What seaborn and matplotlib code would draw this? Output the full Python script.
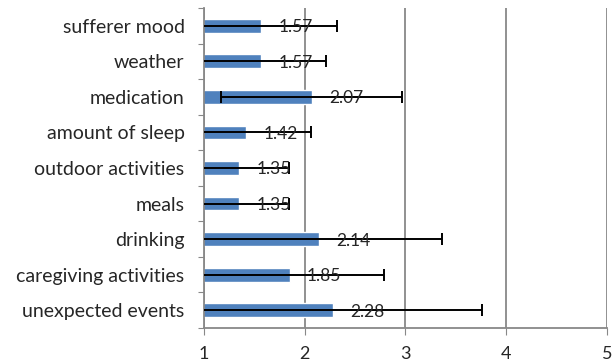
import matplotlib
matplotlib.use("Agg")
import matplotlib.pyplot as plt
import seaborn as sns
import pandas as pd

categories = ["sufferer mood", "weather", "medication", "amount of sleep",
              "outdoor activities", "meals", "drinking", "caregiving activities",
              "unexpected events"]
means = [1.57, 1.57, 2.07, 1.42, 1.35, 1.35, 2.14, 1.85, 2.28]
sds = [0.75, 0.64, 0.90, 0.64, 0.49, 0.49, 1.22, 0.94, 1.48]

df = pd.DataFrame({"category": categories, "mean": means, "sd": sds})

sns.set_style("white")
plt.rcParams["font.family"] = ["Lato", "DejaVu Sans"]

fig, ax = plt.subplots(figsize=(6.13, 3.63), dpi=100)
sns.barplot(data=df, y="category", x="mean", orient="h", color="#4F81BD",
            saturation=1, width=0.39, errorbar=None, ax=ax, zorder=2)
ax.errorbar(df["mean"], range(len(df)), xerr=df["sd"], fmt="none",
            ecolor="black", elinewidth=1.4, capsize=4, capthick=1.4, zorder=3)
for i, v in enumerate(means):
    ax.text(v + 0.17, i + 0.04, f"{v:.2f}", va="center", ha="left", fontsize=12.5, zorder=4)

ax.set_xlim(1, 5)
ax.set_ylim(len(df) - 0.5, -0.5)
ax.set_xticks([1, 2, 3, 4, 5])
ax.set_yticks([i - 0.5 for i in range(len(df) + 1)], minor=False)
ax.set_yticklabels([])
ax.set_yticks(range(len(df)), minor=True)
ax.set_yticklabels(categories, minor=True)
ax.tick_params(axis="y", which="minor", length=0, labelsize=14, pad=14)
ax.tick_params(axis="y", which="major", length=4, color="#888888", direction="out", left=True)
ax.tick_params(axis="x", length=5, color="#888888", direction="out", labelsize=13, pad=8, bottom=True)
ax.set_xlabel("")
ax.set_ylabel("")
ax.xaxis.grid(True, color="#888888", linewidth=1.3, zorder=0)
ax.set_axisbelow(True)
for s in ["top", "right"]:
    ax.spines[s].set_visible(False)
for s in ["left", "bottom"]:
    ax.spines[s].set_color("#888888")
    ax.spines[s].set_linewidth(1.3)

fig.subplots_adjust(left=204 / 613, right=607 / 613, top=1 - 8 / 363, bottom=1 - 328 / 363)
fig.savefig("out.png", dpi=100)
